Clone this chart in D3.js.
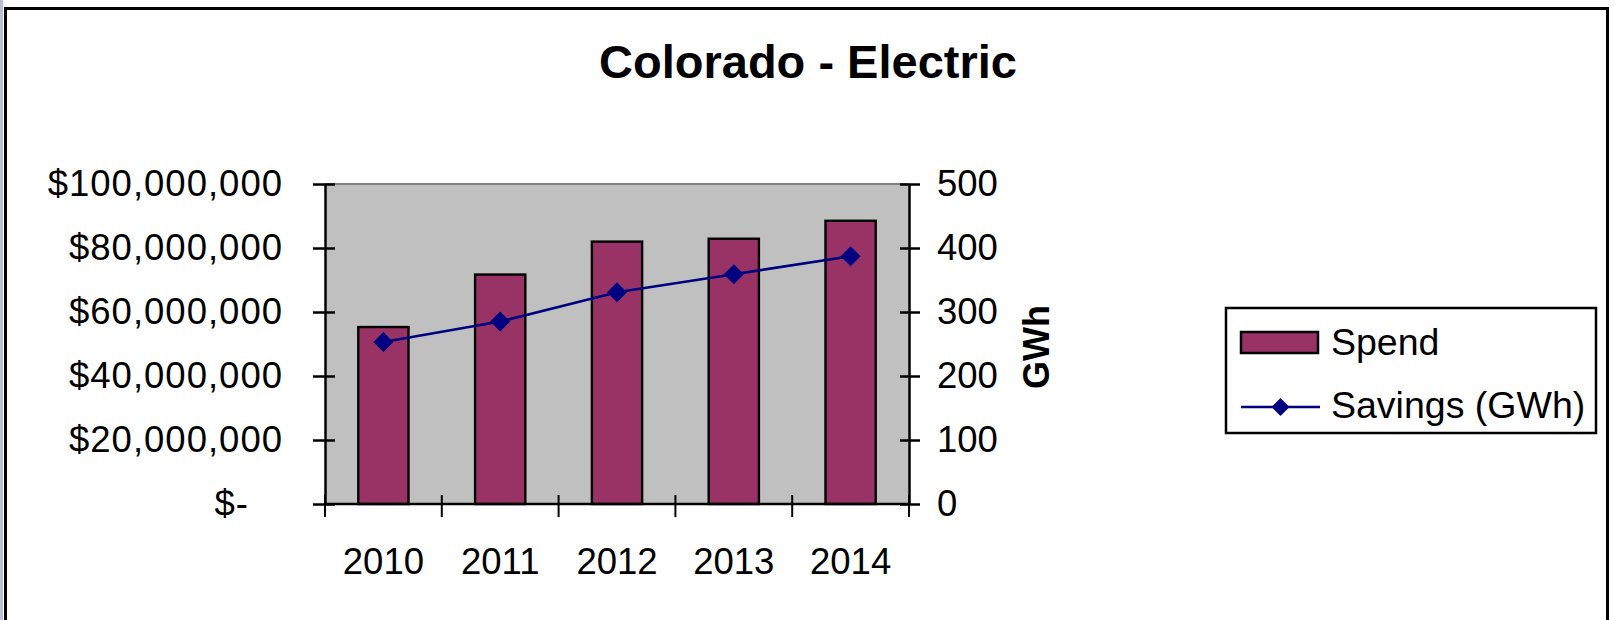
<!DOCTYPE html>
<html>
<head>
<meta charset="utf-8">
<script src="https://cdn.jsdelivr.net/npm/d3@7"></script>
<style>
body{margin:0;background:#fff;}
svg{display:block;font-family:Arial,"Liberation Sans",sans-serif;}
</style>
</head>
<body>
<script>
//chart data
var years = ['2010','2011','2012','2013','2014'];
var spend = [55300000, 71700000, 82000000, 82900000, 88500000];
var savings = [253, 285, 331, 359, 387];
var spendTicks = [0, 20000000, 40000000, 60000000, 80000000, 100000000];
var gwhTicks = [0, 100, 200, 300, 400, 500];

//layout
var width = 1614, height = 620;
var plot = {left:325, right:909, top:184, bottom:504};
var fontSize = 36.5;

var svg = d3.select('body').append('svg')
	.attr('width', width)
	.attr('height', height);

//scales
var x = d3.scaleBand().domain(years)
	.range([plot.left, plot.right])
	.paddingInner(0.57).paddingOuter(0.285);
var yL = d3.scaleLinear().domain([0, 100000000]).range([plot.bottom, plot.top]);
var yR = d3.scaleLinear().domain([0, 500]).range([plot.bottom, plot.top]);

//outer frame
svg.append('rect').attr('x',0).attr('y',0).attr('width',3).attr('height',height).attr('fill','#b8c0d0');
svg.append('path')
	.attr('d','M5.5,'+height+'V8.5H1607.5V'+height)
	.attr('fill','none').attr('stroke','#000').attr('stroke-width',3);

//title
svg.append('text')
	.attr('x', 808).attr('y', 78)
	.attr('text-anchor','middle')
	.attr('font-weight','bold')
	.attr('font-size', 47)
	.text('Colorado - Electric');

//plot area
svg.append('rect')
	.attr('x', plot.left).attr('y', plot.top)
	.attr('width', plot.right-plot.left).attr('height', plot.bottom-plot.top)
	.attr('fill','#c0c0c0');
svg.append('line')
	.attr('x1', plot.left).attr('x2', plot.right)
	.attr('y1', plot.top).attr('y2', plot.top)
	.attr('stroke','#808080').attr('stroke-width',2);

//bars
svg.selectAll('rect.bar').data(spend)
	.enter().append('rect')
	.attr('class','bar')
	.attr('x', function(d,i){return x(years[i])})
	.attr('y', function(d){return yL(d)})
	.attr('width', x.bandwidth())
	.attr('height', function(d){return yL(0)-yL(d)})
	.attr('fill','#993366')
	.attr('stroke','#000')
	.attr('stroke-width',2.4);

//left axis
var gL = svg.append('g')
	.attr('transform','translate('+plot.left+',0)')
	.call(d3.axisLeft(yL).tickValues(spendTicks)
		.tickSizeInner(12).tickSizeOuter(0).tickPadding(30)
		.tickFormat(function(d){return d === 0 ? '$-' : d3.format('$,')(d)}));
gL.selectAll('.tick line').attr('x1', 10);

//right axis
var gR = svg.append('g')
	.attr('transform','translate('+plot.right+',0)')
	.call(d3.axisRight(yR).tickValues(gwhTicks)
		.tickSizeInner(11).tickSizeOuter(0).tickPadding(17));
gR.selectAll('.tick line').attr('x1', -9);

//bottom axis, labels at the category centres
var gB = svg.append('g')
	.attr('transform','translate(0,'+plot.bottom+')')
	.call(d3.axisBottom(x).tickSize(0).tickPadding(44));
gB.select('.domain').remove();

//bottom ticks sit between categories
var gap = (x.step() - x.bandwidth())/2;
var bounds = years.map(function(d){return x(d) - gap}).concat([plot.right]);
svg.selectAll('line.xtick').data(bounds)
	.enter().append('line')
	.attr('class','xtick')
	.attr('x1', function(d){return d}).attr('x2', function(d){return d})
	.attr('y1', plot.bottom-9).attr('y2', plot.bottom+13)
	.attr('stroke','#000').attr('stroke-width',2);
svg.append('line')
	.attr('x1', plot.left).attr('x2', plot.right)
	.attr('y1', plot.bottom).attr('y2', plot.bottom)
	.attr('stroke','#000').attr('stroke-width',2.5);

svg.selectAll('.domain').attr('stroke','#000').attr('stroke-width',2.5);
svg.selectAll('.tick line').attr('stroke','#000').attr('stroke-width',2.5);
svg.selectAll('.tick text')
	.attr('fill','#000')
	.attr('font-size', fontSize)
	.attr('font-family','Arial, "Liberation Sans", sans-serif');
//money labels run a little wider in the original
gL.selectAll('.tick text')
	.attr('letter-spacing', 1)
	.attr('dx', function(d){return d === 0 ? -34 : 0});

//axis title
svg.append('text')
	.attr('transform','translate(1049,347) rotate(-90)')
	.attr('text-anchor','middle')
	.attr('font-weight','bold')
	.attr('font-size', 36)
	.text('GWh');

//savings line
var diamond = function(r){return 'M0,'+(-r)+'L'+r+',0L0,'+r+'L'+(-r)+',0Z'};
var line = d3.line()
	.x(function(d,i){return x(years[i]) + x.bandwidth()/2})
	.y(function(d){return yR(d)});
svg.append('path')
	.datum(savings)
	.attr('d', line)
	.attr('fill','none')
	.attr('stroke','#000080')
	.attr('stroke-width',2.6);
svg.selectAll('path.marker').data(savings)
	.enter().append('path')
	.attr('class','marker')
	.attr('transform', function(d,i){return 'translate('+(x(years[i]) + x.bandwidth()/2)+','+yR(d)+')'})
	.attr('d', diamond(10))
	.attr('fill','#000080');

//legend
var leg = svg.append('g');
leg.append('rect')
	.attr('x',1226).attr('y',308).attr('width',370).attr('height',125)
	.attr('fill','#fff').attr('stroke','#000').attr('stroke-width',2.5);
leg.append('rect')
	.attr('x',1241).attr('y',332).attr('width',77).attr('height',21)
	.attr('fill','#993366').attr('stroke','#000').attr('stroke-width',2.5);
leg.append('text')
	.attr('x',1331).attr('y',355)
	.attr('font-size', 37.5)
	.text('Spend');
leg.append('line')
	.attr('x1',1241).attr('x2',1320).attr('y1',407).attr('y2',407)
	.attr('stroke','#000080').attr('stroke-width',2.6);
leg.append('path')
	.attr('transform','translate(1280.5,407)')
	.attr('d', diamond(9))
	.attr('fill','#000080');
leg.append('text')
	.attr('x',1331).attr('y',418)
	.attr('font-size', 37.5)
	.text('Savings (GWh)');
</script>
</body>
</html>
